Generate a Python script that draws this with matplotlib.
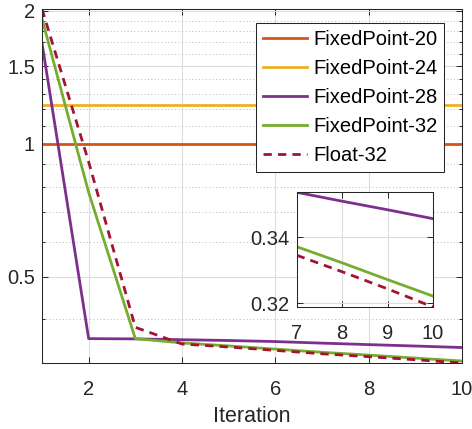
import matplotlib
matplotlib.use("Agg")
import matplotlib.pyplot as plt
from matplotlib.ticker import FixedLocator, NullFormatter, FixedFormatter
import numpy as np

plt.rcParams['font.family'] = ['Liberation Sans', 'DejaVu Sans']

iterations = [1, 2, 3, 4, 5, 6, 7, 8, 9, 10]
fixed20 = [1.0] * 10
fixed24 = [1.225] * 10
fixed28 = [1.69, 0.362, 0.3615, 0.3600, 0.3585, 0.3565, 0.3536, 0.3509, 0.3483, 0.3456]
fixed32 = [1.92, 0.776, 0.362, 0.354, 0.3485, 0.3428, 0.3371, 0.3322, 0.3271, 0.3221]
float32 = [2.02, 0.91, 0.384, 0.352, 0.3465, 0.3405, 0.3345, 0.3295, 0.3243, 0.3188]

labels = ['FixedPoint-20', 'FixedPoint-24', 'FixedPoint-28', 'FixedPoint-32', 'Float-32']
colors = ['#D95319', '#EDB120', '#7E2F8E', '#77AC30', '#A2142F']
series = [fixed20, fixed24, fixed28, fixed32, float32]
styles = ['-', '-', '-', '-', (0, (3.0, 2.2))]

main_yticks = [0.5, 1, 1.5, 2]
main_yticklabels = ['0.5', '1', '1.5', '2']
main_yminor = [0.4, 0.6, 0.7, 0.8, 0.9, 1.1, 1.2, 1.3, 1.4, 1.6, 1.7, 1.8, 1.9]
main_xticks = [2, 4, 6, 8, 10]
inset_xticks = [7, 8, 9, 10]
inset_yticks = [0.32, 0.34]

W, H = 472, 429
fig = plt.figure(figsize=(W / 100, H / 100), dpi=100)
ax = fig.add_axes([42 / W, 1 - 363 / H, (462 - 42) / W, (363 - 9) / H])

axc = '#262626'
lw = 2.0
fs = 14.5
for s, lab, c, ls in zip(series, labels, colors, styles):
    ax.plot(iterations, s, color=c, lw=lw, ls=ls, label=lab)

ax.set_yscale('log')
allv = np.concatenate([np.asarray(s) for s in series])
ax.set_ylim(allv.min(), allv.max())
ax.set_xlim(min(iterations), max(iterations))
ax.set_xticks(main_xticks)
ax.yaxis.set_major_locator(FixedLocator(main_yticks))
ax.yaxis.set_major_formatter(FixedFormatter(main_yticklabels))
ax.yaxis.set_minor_locator(FixedLocator(main_yminor))
ax.yaxis.set_minor_formatter(NullFormatter())
ax.grid(True, which='major', color='#dcdcdc', lw=0.8, ls='-')
ax.grid(True, which='minor', axis='y', color='#b8b8b8', lw=0.7, ls=(0, (1, 2.5)))
ax.set_axisbelow(True)
ax.tick_params(which='both', direction='in', top=True, right=True, colors=axc,
               labelsize=fs, width=0.7)
ax.tick_params(which='major', length=4)
ax.tick_params(axis='y', which='major', pad=5)
ax.tick_params(axis='x', which='major', pad=12)
ax.tick_params(which='minor', length=2.5)
for sp in ax.spines.values():
    sp.set_color(axc)
    sp.set_linewidth(0.75)
ax.set_xlabel('Iteration', fontsize=15.5, color=axc, labelpad=5.5)

leg = ax.legend(loc='upper right', bbox_to_anchor=(444 / W, 1 - 23 / H),
                bbox_transform=fig.transFigure, borderaxespad=0,
                fontsize=fs, handlelength=2.2, handletextpad=0.3,
                labelspacing=0.5, borderpad=0.33, fancybox=False,
                framealpha=1, edgecolor=axc)
leg.get_frame().set_linewidth(0.75)
for t in leg.get_texts():
    t.set_color('black')

# inset
ins = fig.add_axes([296.7 / W, 1 - 307 / H, (433 - 296.7) / W, (307 - 192.3) / H])
ins_x = iterations[6:]
for s, c, ls in zip(series[2:], colors[2:], styles[2:]):
    ins.plot(ins_x, s[6:], color=c, lw=lw, ls=ls)
iv = np.concatenate([np.asarray(s[6:]) for s in series[2:]])
ins.set_xlim(min(ins_x), max(ins_x))
ins.set_ylim(iv.min(), iv.max())
ins.set_xticks(inset_xticks)
ins.set_yticks(inset_yticks)
ins.set_yticklabels(['0.32', '0.34'])
ins.grid(True, color='#dcdcdc', lw=0.8)
ins.set_axisbelow(True)
ins.tick_params(direction='in', top=True, right=True, colors=axc,
                labelsize=fs, length=4, width=0.7)
ins.tick_params(axis='y', pad=5)
ins.tick_params(axis='x', pad=12)
for sp in ins.spines.values():
    sp.set_color(axc)
    sp.set_linewidth(0.75)

fig.savefig('out.png', dpi=100)
